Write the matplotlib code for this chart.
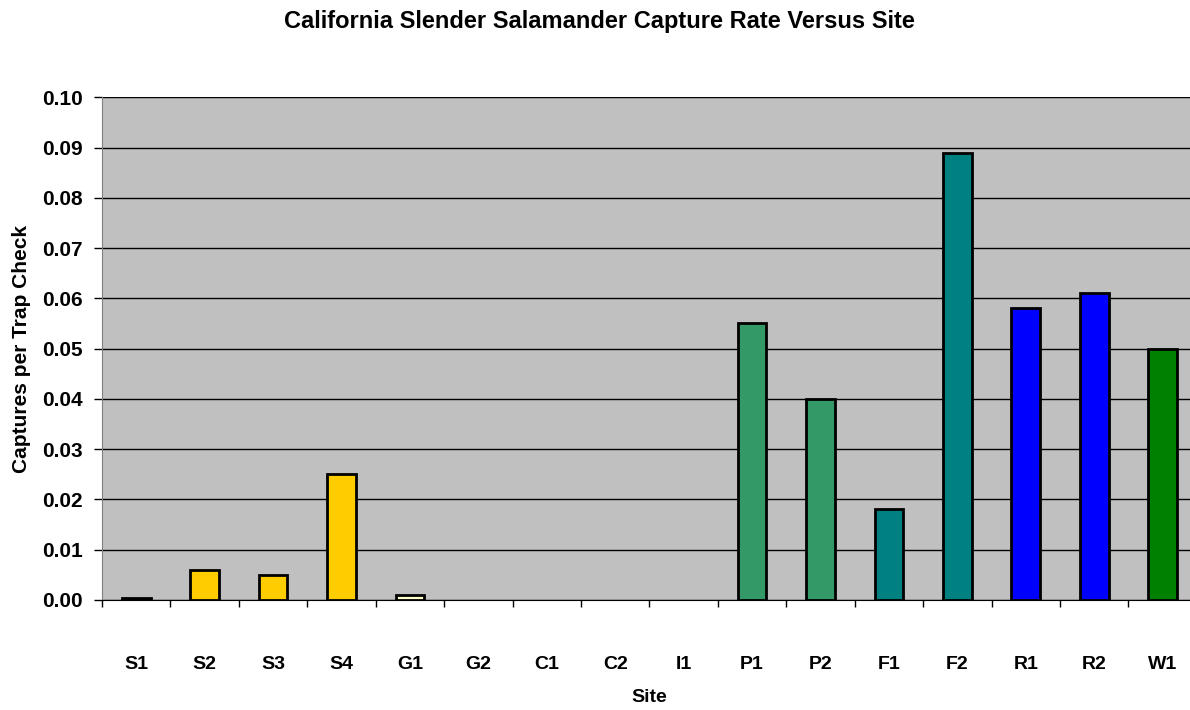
import matplotlib
matplotlib.use("Agg")
import matplotlib.pyplot as plt
import numpy as np

sites = ["S1", "S2", "S3", "S4", "G1", "G2", "C1", "C2", "I1",
         "P1", "P2", "F1", "F2", "R1", "R2", "W1"]
rates = [0.0003, 0.006, 0.005, 0.025, 0.001, 0, 0, 0, 0,
         0.055, 0.040, 0.018, 0.089, 0.058, 0.061, 0.050]
colors = ["#FFCC00"] * 4 + ["#FFFFCC"] + ["#C0C0C0"] * 4 + \
         ["#339966"] * 2 + ["#008080"] * 2 + ["#0000FF"] * 2 + ["#008000"]

plt.rcParams["font.family"] = ["Liberation Sans", "DejaVu Sans"]
plt.rcParams["font.weight"] = "bold"

fig = plt.figure(figsize=(11.9, 7.1), dpi=100)
ax = fig.add_axes([0.0857, 0.155, 0.92, 0.708])
ax.set_facecolor("#C0C0C0")

x = np.arange(len(sites))
# zero-height bars are not visible in the original, so drop their outline
lw = [2 if r > 0 else 0 for r in rates]
ax.bar(x, rates, width=0.42, color=colors, edgecolor="black", linewidth=lw, zorder=3)

ax.set_xlim(-0.5, len(sites) - 0.5)
ax.set_ylim(0, 0.10)
yt = np.arange(0, 0.101, 0.01)
ax.set_yticks(yt)
ax.set_yticklabels(["%.2f" % v for v in yt], fontsize=15, fontweight="bold")
ax.yaxis.grid(True, color="black", linewidth=1, zorder=1)
ax.set_axisbelow(True)

ax.set_xticks(x)
ax.set_xticklabels(sites, fontsize=14, fontweight="bold")
ax.set_xticks(np.arange(-0.5, len(sites)), minor=True)
ax.tick_params(axis="x", which="major", length=0, pad=40)
ax.tick_params(axis="x", which="minor", length=5, width=1)
ax.tick_params(axis="y", length=6, width=1, pad=8)

for s in ["top", "right"]:
    ax.spines[s].set_visible(False)
ax.spines["left"].set_color("#808080")
ax.spines["bottom"].set_color("black")

ax.set_xlabel("Site", fontsize=14, fontweight="bold", labelpad=12)
ax.set_ylabel("Captures per Trap Check", fontsize=15, fontweight="bold", labelpad=8)
fig.text(0.504, 0.97, "California Slender Salamander Capture Rate Versus Site",
         ha="center", va="center", fontsize=17, fontweight="bold")

fig.savefig("out.png", dpi=100)
